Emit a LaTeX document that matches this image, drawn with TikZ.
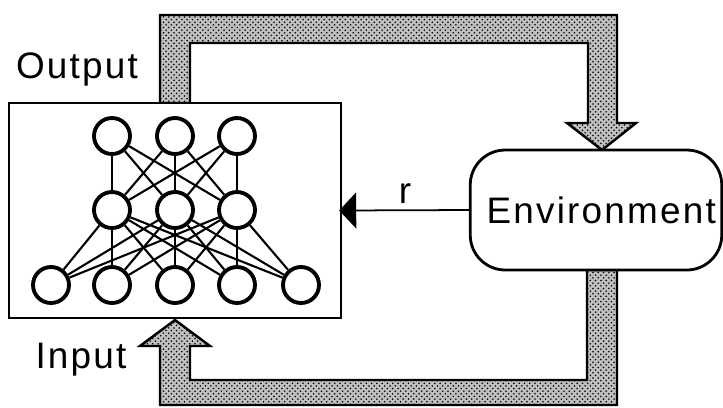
\documentclass[tikz,border=0pt]{standalone}
\usepackage{fontspec}
\setmainfont{Liberation Sans}[LetterSpace=6]
\usetikzlibrary{arrows.meta, patterns}

\tikzset{
	neuron/.style={circle, draw, line width=2.2pt, fill=white, minimum size=0.72cm, inner sep=0pt}
}
\tikzset{
	link/.style={line width=1.2pt}
}
\tikzset{
	bigtext/.style={font=\fontsize{21}{25}\selectfont}
}
\tikzset{
	pipe/.style={line width=1.4pt, fill=gray!50, postaction={pattern=crosshatch dots}}
}

\begin{document}
\begin{tikzpicture}[x=0.02cm, y=-0.02cm]

			\useasboundingbox (0,0) rectangle (723,407);

			% thick shaded pipes, drawn first so the boxes cover their ends
			\draw[pipe] (160,103) -- (160,15) -- (617,15) -- (617,123) -- (636,123) -- (602,150)
				-- (567,123) -- (588,123) -- (588,43) -- (190,43) -- (190,103) -- cycle;
			\draw[pipe] (587,270) -- (587,380) -- (190,380) -- (190,346) -- (210,346) -- (175,320)
				-- (140,346) -- (160,346) -- (160,405) -- (617,405) -- (617,270) -- cycle;

			\node[draw, line width=1.6pt, fill=white, outer sep=0pt, minimum width=6.64cm, minimum height=4.3cm] (agent) at (175,210.5) {};
			\node[draw, line width=1.6pt, fill=white, rounded corners=0.7cm, minimum width=4.96cm, minimum height=2.4cm, bigtext] (env) at (596,210) {\hspace*{6pt}Environment};

			\begin{scope}
				\foreach \n/\x in {1/112,2/175,3/237} {
						\node[neuron] (o\n) at (\x,136) {};
						\node[neuron] (h\n) at (\x,210) {};
					}
				\foreach \n/\x in {1/51,2/112,3/175,4/237,5/301}
				\node[neuron] (i\n) at (\x,285) {};

				\foreach \a in {1,2,3}
				\foreach \b in {1,2,3}
				\draw[link] (o\a) -- (h\b);
				\foreach \a in {1,2,3}
				\foreach \b in {1,...,5}
				\draw[link] (h\a) -- (i\b);
			\end{scope}

			\draw[line width=1pt, shorten >=-1pt, -{Triangle[length=0.34cm, width=0.72cm]}] (env.west) -- node[above, bigtext] (rlbl) {r} (agent.east);

			\node[bigtext, anchor=base] (outlbl) at (77,78) {Output};
			\node[bigtext, anchor=base] (inlbl) at (81,368) {Input};

\end{tikzpicture}
\end{document}
